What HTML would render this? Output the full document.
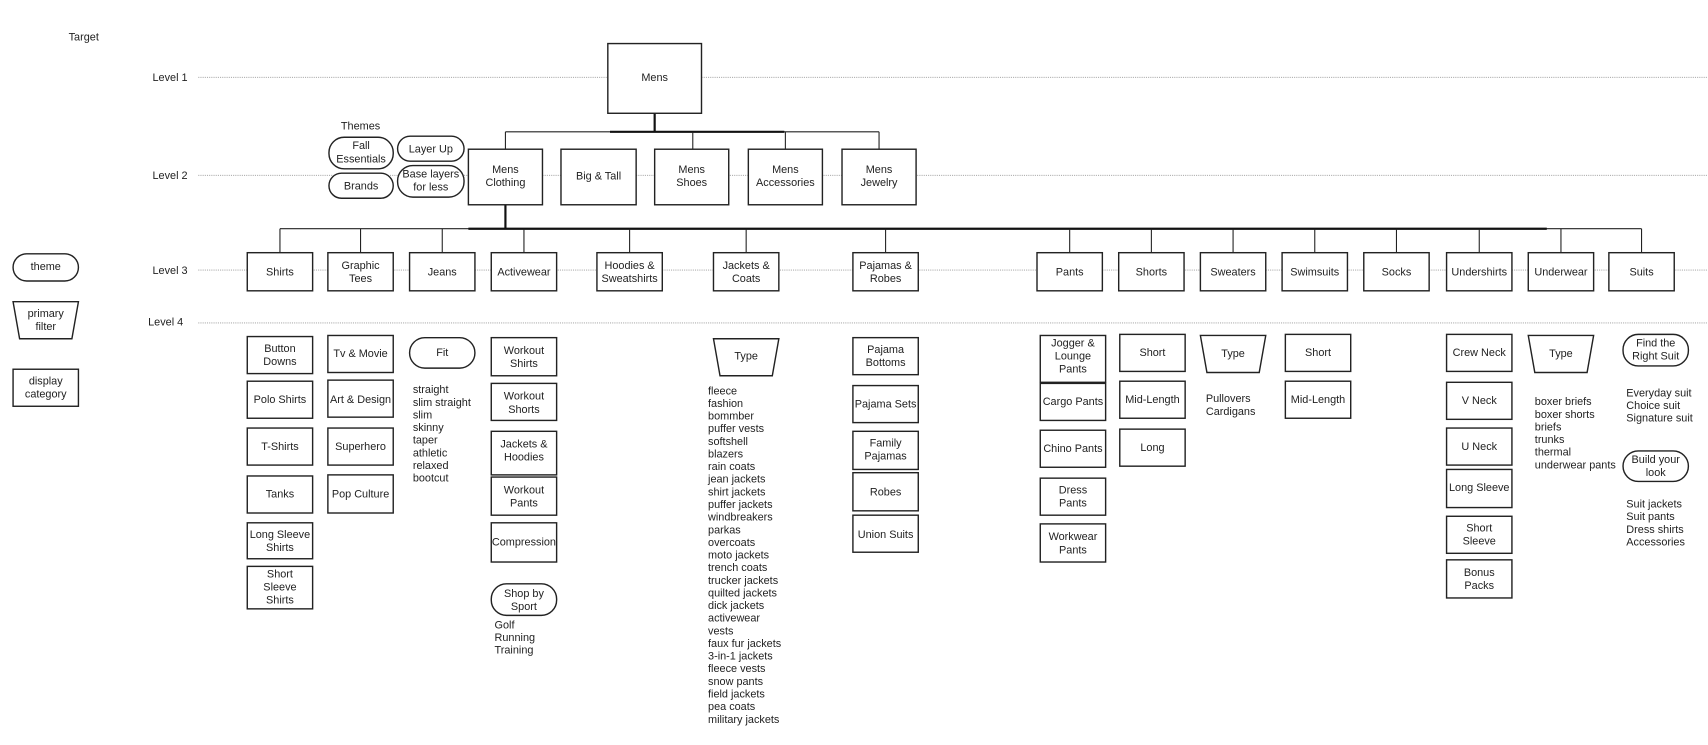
<!DOCTYPE html>
<html><head><meta charset="utf-8"><style>
html,body{margin:0;padding:0;background:#fff;width:1708px;height:745px;overflow:hidden}
svg{display:block}
text{font-family:"Liberation Sans",Arial,sans-serif;font-size:10px;fill:#222}
.c{text-anchor:middle}
.b{fill:#fff;stroke:#222;stroke-width:1.3}
.d{stroke:#999;stroke-width:.8;stroke-dasharray:1,1;fill:none}
.l{stroke:#222;stroke-width:1;fill:none}
.t{stroke:#111;stroke-width:2;fill:none}
</style></head><body>
<svg width="1708" height="745" viewBox="0 0 1568 684" preserveAspectRatio="none" xmlns="http://www.w3.org/2000/svg">
<!-- dotted level lines -->
<line class="d" x1="182" y1="71" x2="1568" y2="71"/>
<line class="d" x1="182" y1="161" x2="1568" y2="161"/>
<line class="d" x1="182" y1="248" x2="1568" y2="248"/>
<line class="d" x1="182" y1="296.5" x2="1568" y2="296.5"/>
<text x="63" y="37">Target</text>
<text x="140" y="74.5">Level 1</text>
<text x="140" y="164.5">Level 2</text>
<text x="140" y="251.5">Level 3</text>
<text x="136" y="299">Level 4</text>

<!-- connectors -->
<line class="t" x1="601" y1="104" x2="601" y2="121"/>
<line class="l" x1="464" y1="121" x2="807" y2="121"/>
<line class="t" x1="560" y1="121" x2="720" y2="121"/>
<line class="l" x1="464" y1="121" x2="464" y2="137"/>
<line class="l" x1="636" y1="121" x2="636" y2="137"/>
<line class="l" x1="721" y1="121" x2="721" y2="137"/>
<line class="l" x1="807" y1="121" x2="807" y2="137"/>
<line class="t" x1="464" y1="188" x2="464" y2="210"/>
<line class="l" x1="257" y1="210" x2="1507" y2="210"/>
<line class="t" x1="430" y1="210" x2="1420" y2="210"/>
<g class="l">
<line x1="257" y1="210" x2="257" y2="232"/><line x1="331" y1="210" x2="331" y2="232"/>
<line x1="406" y1="210" x2="406" y2="232"/><line x1="481" y1="210" x2="481" y2="232"/>
<line x1="578" y1="210" x2="578" y2="232"/><line x1="685" y1="210" x2="685" y2="232"/>
<line x1="813" y1="210" x2="813" y2="232"/><line x1="982" y1="210" x2="982" y2="232"/>
<line x1="1057" y1="210" x2="1057" y2="232"/><line x1="1132" y1="210" x2="1132" y2="232"/>
<line x1="1207" y1="210" x2="1207" y2="232"/><line x1="1282" y1="210" x2="1282" y2="232"/>
<line x1="1358" y1="210" x2="1358" y2="232"/><line x1="1433" y1="210" x2="1433" y2="232"/>
<line x1="1507" y1="210" x2="1507" y2="232"/>
</g>

<!-- Level 1 -->
<rect class="b" x="558" y="40" width="86" height="64"/><text class="c" x="601" y="74.5">Mens</text>

<!-- Level 2 -->
<rect class="b" x="430" y="137" width="68" height="51"/><text class="c" x="464" y="159">Mens</text><text class="c" x="464" y="171">Clothing</text>
<rect class="b" x="515" y="137" width="69" height="51"/><text class="c" x="549.5" y="165">Big &amp; Tall</text>
<rect class="b" x="601" y="137" width="68" height="51"/><text class="c" x="635" y="159">Mens</text><text class="c" x="635" y="171">Shoes</text>
<rect class="b" x="687" y="137" width="68" height="51"/><text class="c" x="721" y="159">Mens</text><text class="c" x="721" y="171">Accessories</text>
<rect class="b" x="773" y="137" width="68" height="51"/><text class="c" x="807" y="159">Mens</text><text class="c" x="807" y="171">Jewelry</text>

<!-- Themes -->
<text class="c" x="331" y="119">Themes</text>
<rect class="b" x="302" y="126" width="59" height="29" rx="14"/><text class="c" x="331.5" y="137">Fall</text><text class="c" x="331.5" y="149">Essentials</text>
<rect class="b" x="365" y="125" width="61" height="23" rx="11.5"/><text class="c" x="395.5" y="140">Layer Up</text>
<rect class="b" x="302" y="159" width="59" height="23" rx="11.5"/><text class="c" x="331.5" y="174">Brands</text>
<rect class="b" x="365" y="152" width="61" height="29" rx="14"/><text class="c" x="395.5" y="163">Base layers</text><text class="c" x="395.5" y="175">for  less</text>

<!-- Legend -->
<rect class="b" x="12" y="233" width="60" height="25" rx="12.5"/><text class="c" x="42" y="248">theme</text>
<path class="b" d="M12 277 H72 L66 311 H18 Z"/><text class="c" x="42" y="291">primary</text><text class="c" x="42" y="303">filter</text>
<rect class="b" x="12" y="339" width="60" height="34"/><text class="c" x="42" y="353">display</text><text class="c" x="42" y="365">category</text>

<!-- Level 3 -->
<g>
<rect class="b" x="227" y="232" width="60" height="35"/><text class="c" x="257" y="253">Shirts</text>
<rect class="b" x="301" y="232" width="60" height="35"/><text class="c" x="331" y="247">Graphic</text><text class="c" x="331" y="259">Tees</text>
<rect class="b" x="376" y="232" width="60" height="35"/><text class="c" x="406" y="253">Jeans</text>
<rect class="b" x="451" y="232" width="60" height="35"/><text class="c" x="481" y="253">Activewear</text>
<rect class="b" x="548" y="232" width="60" height="35"/><text class="c" x="578" y="247">Hoodies &amp;</text><text class="c" x="578" y="259">Sweatshirts</text>
<rect class="b" x="655" y="232" width="60" height="35"/><text class="c" x="685" y="247">Jackets &amp;</text><text class="c" x="685" y="259">Coats</text>
<rect class="b" x="783" y="232" width="60" height="35"/><text class="c" x="813" y="247">Pajamas &amp;</text><text class="c" x="813" y="259">Robes</text>
<rect class="b" x="952" y="232" width="60" height="35"/><text class="c" x="982" y="253">Pants</text>
<rect class="b" x="1027" y="232" width="60" height="35"/><text class="c" x="1057" y="253">Shorts</text>
<rect class="b" x="1102" y="232" width="60" height="35"/><text class="c" x="1132" y="253">Sweaters</text>
<rect class="b" x="1177" y="232" width="60" height="35"/><text class="c" x="1207" y="253">Swimsuits</text>
<rect class="b" x="1252" y="232" width="60" height="35"/><text class="c" x="1282" y="253">Socks</text>
<rect class="b" x="1328" y="232" width="60" height="35"/><text class="c" x="1358" y="253">Undershirts</text>
<rect class="b" x="1403" y="232" width="60" height="35"/><text class="c" x="1433" y="253">Underwear</text>
<rect class="b" x="1477" y="232" width="60" height="35"/><text class="c" x="1507" y="253">Suits</text>
</g>

<!-- Shirts column -->
<rect class="b" x="227" y="309" width="60" height="34"/><text class="c" x="257" y="323">Button</text><text class="c" x="257" y="335">Downs</text>
<rect class="b" x="227" y="350" width="60" height="34"/><text class="c" x="257" y="370">Polo Shirts</text>
<rect class="b" x="227" y="393" width="60" height="34"/><text class="c" x="257" y="413">T-Shirts</text>
<rect class="b" x="227" y="437" width="60" height="34"/><text class="c" x="257" y="457">Tanks</text>
<rect class="b" x="227" y="480" width="60" height="33"/><text class="c" x="257" y="494">Long Sleeve</text><text class="c" x="257" y="506">Shirts</text>
<rect class="b" x="227" y="520" width="60" height="39"/><text class="c" x="257" y="530">Short</text><text class="c" x="257" y="542">Sleeve</text><text class="c" x="257" y="554">Shirts</text>

<!-- Graphic tees -->
<rect class="b" x="301" y="308" width="60" height="34"/><text class="c" x="331" y="328">Tv &amp; Movie</text>
<rect class="b" x="301" y="349" width="60" height="34"/><text class="c" x="331" y="370">Art &amp; Design</text>
<rect class="b" x="301" y="393" width="60" height="34"/><text class="c" x="331" y="413">Superhero</text>
<rect class="b" x="301" y="436" width="60" height="35"/><text class="c" x="331" y="457">Pop Culture</text>

<!-- Jeans -->
<rect class="b" x="376" y="310" width="60" height="28" rx="14"/><text class="c" x="406" y="327">Fit</text>
<g><text x="379" y="361">straight</text><text x="379" y="372.6">slim straight</text><text x="379" y="384.2">slim</text><text x="379" y="395.8">skinny</text><text x="379" y="407.4">taper</text><text x="379" y="419">athletic</text><text x="379" y="430.6">relaxed</text><text x="379" y="442.2">bootcut</text></g>

<!-- Activewear -->
<rect class="b" x="451" y="310" width="60" height="35"/><text class="c" x="481" y="325">Workout</text><text class="c" x="481" y="337">Shirts</text>
<rect class="b" x="451" y="352" width="60" height="34"/><text class="c" x="481" y="367">Workout</text><text class="c" x="481" y="379">Shorts</text>
<rect class="b" x="451" y="396" width="60" height="40"/><text class="c" x="481" y="411">Jackets &amp;</text><text class="c" x="481" y="423">Hoodies</text>
<rect class="b" x="451" y="438" width="60" height="35"/><text class="c" x="481" y="453">Workout</text><text class="c" x="481" y="465">Pants</text>
<rect class="b" x="451" y="480" width="60" height="36"/><text class="c" x="481" y="501">Compression</text>
<rect class="b" x="451" y="536" width="60" height="29" rx="14"/><text class="c" x="481" y="548">Shop by</text><text class="c" x="481" y="560">Sport</text>
<text x="454" y="577">Golf</text><text x="454" y="588.6">Running</text><text x="454" y="600.2">Training</text>

<!-- Jackets -->
<path class="b" d="M655 311 H715 L709 345 H661 Z"/><text class="c" x="685" y="330">Type</text>
<g>
<text x="650" y="362">fleece</text><text x="650" y="373.6">fashion</text><text x="650" y="385.2">bommber</text><text x="650" y="396.8">puffer vests</text><text x="650" y="408.4">softshell</text><text x="650" y="420">blazers</text><text x="650" y="431.6">rain coats</text><text x="650" y="443.2">jean jackets</text><text x="650" y="454.8">shirt jackets</text><text x="650" y="466.4">puffer jackets</text><text x="650" y="478">windbreakers</text><text x="650" y="489.6">parkas</text><text x="650" y="501.2">overcoats</text><text x="650" y="512.8">moto jackets</text><text x="650" y="524.4">trench coats</text><text x="650" y="536">trucker jackets</text><text x="650" y="547.6">quilted jackets</text><text x="650" y="559.2">dick jackets</text><text x="650" y="570.8">activewear</text><text x="650" y="582.4">vests</text><text x="650" y="594">faux fur jackets</text><text x="650" y="605.6">3-in-1 jackets</text><text x="650" y="617.2">fleece vests</text><text x="650" y="628.8">snow pants</text><text x="650" y="640.4">field jackets</text><text x="650" y="652">pea coats</text><text x="650" y="663.6">military jackets</text>
</g>

<!-- Pajamas -->
<rect class="b" x="783" y="310" width="60" height="34"/><text class="c" x="813" y="324">Pajama</text><text class="c" x="813" y="336">Bottoms</text>
<rect class="b" x="783" y="354" width="60" height="34"/><text class="c" x="813" y="374">Pajama Sets</text>
<rect class="b" x="783" y="396" width="60" height="35"/><text class="c" x="813" y="410">Family</text><text class="c" x="813" y="422">Pajamas</text>
<rect class="b" x="783" y="434" width="60" height="35"/><text class="c" x="813" y="455">Robes</text>
<rect class="b" x="783" y="473" width="60" height="34"/><text class="c" x="813" y="494">Union Suits</text>

<!-- Pants -->
<rect class="b" x="955" y="308" width="60" height="43"/><text class="c" x="985" y="318">Jogger &amp;</text><text class="c" x="985" y="330">Lounge</text><text class="c" x="985" y="342">Pants</text>
<rect class="b" x="955" y="352" width="60" height="34"/><text class="c" x="985" y="372">Cargo Pants</text>
<rect class="b" x="955" y="395" width="60" height="34"/><text class="c" x="985" y="415">Chino Pants</text>
<rect class="b" x="955" y="439" width="60" height="34"/><text class="c" x="985" y="453">Dress</text><text class="c" x="985" y="465">Pants</text>
<rect class="b" x="955" y="481" width="60" height="35"/><text class="c" x="985" y="496">Workwear</text><text class="c" x="985" y="508">Pants</text>

<!-- Shorts -->
<rect class="b" x="1028" y="307" width="60" height="34"/><text class="c" x="1058" y="327">Short</text>
<rect class="b" x="1028" y="350" width="60" height="34"/><text class="c" x="1058" y="370">Mid-Length</text>
<rect class="b" x="1028" y="394" width="60" height="34"/><text class="c" x="1058" y="414">Long</text>

<!-- Sweaters -->
<path class="b" d="M1102 308 H1162 L1156 342 H1108 Z"/><text class="c" x="1132" y="328">Type</text>
<text x="1107" y="369">Pullovers</text><text x="1107" y="381">Cardigans</text>

<!-- Swimsuits -->
<rect class="b" x="1180" y="307" width="60" height="34"/><text class="c" x="1210" y="327">Short</text>
<rect class="b" x="1180" y="350" width="60" height="34"/><text class="c" x="1210" y="370">Mid-Length</text>

<!-- Undershirts -->
<rect class="b" x="1328" y="307" width="60" height="34"/><text class="c" x="1358" y="327">Crew Neck</text>
<rect class="b" x="1328" y="351" width="60" height="34"/><text class="c" x="1358" y="371">V Neck</text>
<rect class="b" x="1328" y="393" width="60" height="34"/><text class="c" x="1358" y="413">U Neck</text>
<rect class="b" x="1328" y="431" width="60" height="35"/><text class="c" x="1358" y="451">Long Sleeve</text>
<rect class="b" x="1328" y="474" width="60" height="34"/><text class="c" x="1358" y="488">Short</text><text class="c" x="1358" y="500">Sleeve</text>
<rect class="b" x="1328" y="514" width="60" height="35"/><text class="c" x="1358" y="529">Bonus</text><text class="c" x="1358" y="541">Packs</text>

<!-- Underwear -->
<path class="b" d="M1403 308 H1463 L1457 342 H1409 Z"/><text class="c" x="1433" y="328">Type</text>
<g><text x="1409" y="372">boxer briefs</text><text x="1409" y="383.6">boxer shorts</text><text x="1409" y="395.2">briefs</text><text x="1409" y="406.8">trunks</text><text x="1409" y="418.4">thermal</text><text x="1409" y="430">underwear pants</text></g>

<!-- Suits -->
<rect class="b" x="1490" y="307" width="60" height="29" rx="14"/><text class="c" x="1520" y="318">Find the</text><text class="c" x="1520" y="330">Right Suit</text>
<text x="1493" y="364">Everyday suit</text><text x="1493" y="375.6">Choice suit</text><text x="1493" y="387.2">Signature suit</text>
<rect class="b" x="1490" y="414" width="60" height="28" rx="14"/><text class="c" x="1520" y="425">Build your</text><text class="c" x="1520" y="437">look</text>
<text x="1493" y="466">Suit jackets</text><text x="1493" y="477.6">Suit pants</text><text x="1493" y="489.2">Dress shirts</text><text x="1493" y="500.8">Accessories</text>
</svg>
</body></html>
